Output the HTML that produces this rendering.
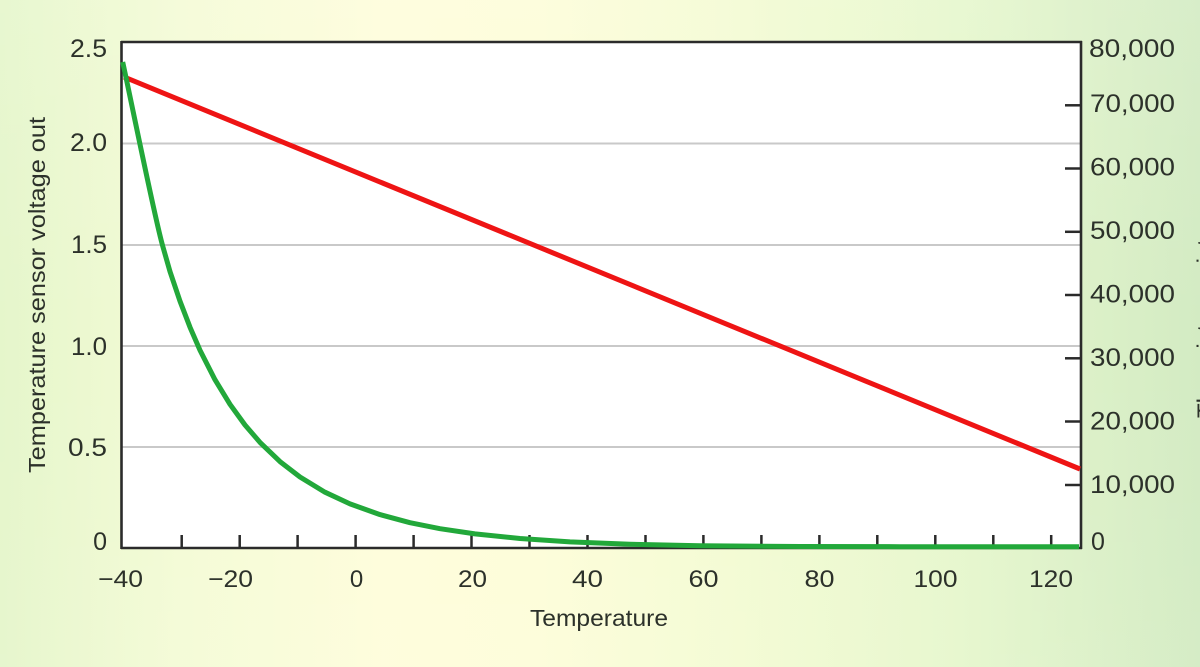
<!DOCTYPE html>
<html>
<head>
<meta charset="utf-8">
<style>
  html, body { margin:0; padding:0; width:1200px; height:667px; overflow:hidden; }
  body {
    background: linear-gradient(90deg, #e5f6cb 0%, #f4fbd6 15%, #fefddb 32%, #fdfdd9 45%, #f3fbd3 62%, #e6f7cd 80%, #d3ebc3 100%);
  }
  svg { position:absolute; left:0; top:0; }
  text { font-family: "Liberation Sans", "DejaVu Sans", sans-serif; fill:#2c312a; }
</style>
</head>
<body>
<svg width="1200" height="667" viewBox="0 0 1200 667" xmlns="http://www.w3.org/2000/svg">
  <defs>
    <linearGradient id="vfade" x1="0" y1="0" x2="0" y2="1">
      <stop offset="0" stop-color="#ffffff" stop-opacity="0.10"/>
      <stop offset="0.5" stop-color="#ffffff" stop-opacity="0"/>
      <stop offset="1" stop-color="#ffffff" stop-opacity="0.05"/>
    </linearGradient>
  </defs>
  <rect x="0" y="0" width="1200" height="667" fill="url(#vfade)"/>

  <!-- plot area -->
  <rect x="122" y="42" width="959" height="506" fill="#ffffff"/>

  <!-- gridlines -->
  <g stroke="#c9c9c9" stroke-width="2">
    <line x1="122" y1="143.5" x2="1080" y2="143.5"/>
    <line x1="122" y1="245" x2="1080" y2="245"/>
    <line x1="122" y1="346" x2="1080" y2="346"/>
    <line x1="122" y1="447" x2="1080" y2="447"/>
  </g>

  <!-- bottom ticks -->
  <g stroke="#2a2a2a" stroke-width="2.5">
    <line x1="181.7" y1="535" x2="181.7" y2="548"/>
    <line x1="239.7" y1="535" x2="239.7" y2="548"/>
    <line x1="297.6" y1="535" x2="297.6" y2="548"/>
    <line x1="355.6" y1="535" x2="355.6" y2="548"/>
    <line x1="413.6" y1="535" x2="413.6" y2="548"/>
    <line x1="471.5" y1="535" x2="471.5" y2="548"/>
    <line x1="529.5" y1="535" x2="529.5" y2="548"/>
    <line x1="587.5" y1="535" x2="587.5" y2="548"/>
    <line x1="645.5" y1="535" x2="645.5" y2="548"/>
    <line x1="703.4" y1="535" x2="703.4" y2="548"/>
    <line x1="761.4" y1="535" x2="761.4" y2="548"/>
    <line x1="819.4" y1="535" x2="819.4" y2="548"/>
    <line x1="877.3" y1="535" x2="877.3" y2="548"/>
    <line x1="935.3" y1="535" x2="935.3" y2="548"/>
    <line x1="993.3" y1="535" x2="993.3" y2="548"/>
    <line x1="1051.2" y1="535" x2="1051.2" y2="548"/>
  </g>

  <!-- right ticks -->
  <g stroke="#2a2a2a" stroke-width="2.5">
    <line x1="1065" y1="105.3" x2="1081" y2="105.3"/>
    <line x1="1065" y1="168.5" x2="1081" y2="168.5"/>
    <line x1="1065" y1="231.8" x2="1081" y2="231.8"/>
    <line x1="1065" y1="295" x2="1081" y2="295"/>
    <line x1="1065" y1="358.3" x2="1081" y2="358.3"/>
    <line x1="1065" y1="421.5" x2="1081" y2="421.5"/>
    <line x1="1065" y1="485" x2="1081" y2="485"/>
  </g>

  <!-- frame -->
  <g stroke="#2b2b2b" stroke-width="2.6" fill="none">
    <line x1="121" y1="42" x2="1082" y2="42"/>
    <line x1="121.5" y1="41" x2="121.5" y2="549"/>
    <line x1="1081" y1="41" x2="1081" y2="549"/>
    <line x1="121" y1="548" x2="1082" y2="548"/>
  </g>

  <!-- red series -->
  <line x1="124" y1="77" x2="1080" y2="469" stroke="#ee1414" stroke-width="5" stroke-linecap="butt"/>

  <!-- green series -->
  <path fill="none" stroke="#22a83a" stroke-width="5" stroke-linejoin="round" stroke-linecap="butt"
    d="M122.7,62
       C131.7,103.4 154.7,218 162.7,246
       L170,271.6 L180,301.2 L190,327.2 L200,350.2 L215,379.7 L230,404.3
       L245,425 L260,442.4 L280,461.6 L300,477 L325,492.2 L350,503.9
       L380,514.6 L410,522.7 L440,528.7 L475,533.9 L520,538.5 L570,541.9
       L630,544.2 L700,545.8 L800,546.5 L900,546.7 L1079,546.8"/>

  <!-- left tick labels -->
  <g font-size="25" text-anchor="end">
    <text x="107" y="57" textLength="37" lengthAdjust="spacingAndGlyphs">2.5</text>
    <text x="107" y="151" textLength="37" lengthAdjust="spacingAndGlyphs">2.0</text>
    <text x="107" y="253" textLength="36" lengthAdjust="spacingAndGlyphs">1.5</text>
    <text x="107" y="355" textLength="36" lengthAdjust="spacingAndGlyphs">1.0</text>
    <text x="107" y="456" textLength="39" lengthAdjust="spacingAndGlyphs">0.5</text>
    <text x="107" y="550">0</text>
  </g>

  <!-- right tick labels -->
  <g font-size="25" text-anchor="start">
    <text x="1089" y="57" textLength="86" lengthAdjust="spacingAndGlyphs">80,000</text>
    <text x="1090" y="112" textLength="85" lengthAdjust="spacingAndGlyphs">70,000</text>
    <text x="1090" y="175.5" textLength="85" lengthAdjust="spacingAndGlyphs">60,000</text>
    <text x="1090" y="239" textLength="85" lengthAdjust="spacingAndGlyphs">50,000</text>
    <text x="1090" y="302.5" textLength="85" lengthAdjust="spacingAndGlyphs">40,000</text>
    <text x="1090" y="366" textLength="85" lengthAdjust="spacingAndGlyphs">30,000</text>
    <text x="1090" y="429.5" textLength="85" lengthAdjust="spacingAndGlyphs">20,000</text>
    <text x="1090" y="493" textLength="85" lengthAdjust="spacingAndGlyphs">10,000</text>
    <text x="1091" y="550">0</text>
  </g>

  <!-- x tick labels -->
  <g font-size="24">
    <text x="143" y="587" text-anchor="end" textLength="45" lengthAdjust="spacingAndGlyphs">−40</text>
    <text x="253" y="587" text-anchor="end" textLength="45" lengthAdjust="spacingAndGlyphs">−20</text>
    <text x="356.5" y="587" text-anchor="middle">0</text>
    <text x="472.5" y="587" text-anchor="middle" textLength="29" lengthAdjust="spacingAndGlyphs">20</text>
    <text x="587.5" y="587" text-anchor="middle" textLength="31" lengthAdjust="spacingAndGlyphs">40</text>
    <text x="703.5" y="587" text-anchor="middle" textLength="30" lengthAdjust="spacingAndGlyphs">60</text>
    <text x="819.5" y="587" text-anchor="middle" textLength="30" lengthAdjust="spacingAndGlyphs">80</text>
    <text x="935.5" y="587" text-anchor="middle" textLength="44" lengthAdjust="spacingAndGlyphs">100</text>
    <text x="1051" y="587" text-anchor="middle" textLength="44" lengthAdjust="spacingAndGlyphs">120</text>
  </g>

  <!-- axis titles -->
  <text x="599" y="626" font-size="23" text-anchor="middle" textLength="138" lengthAdjust="spacingAndGlyphs">Temperature</text>
  <text transform="translate(45,295) rotate(-90)" font-size="23" text-anchor="middle" textLength="356" lengthAdjust="spacingAndGlyphs">Temperature sensor voltage out</text>
  <text transform="translate(1214,418) rotate(-90)" font-size="24" text-anchor="start">Thermistor resistance</text>
</svg>
</body>
</html>
